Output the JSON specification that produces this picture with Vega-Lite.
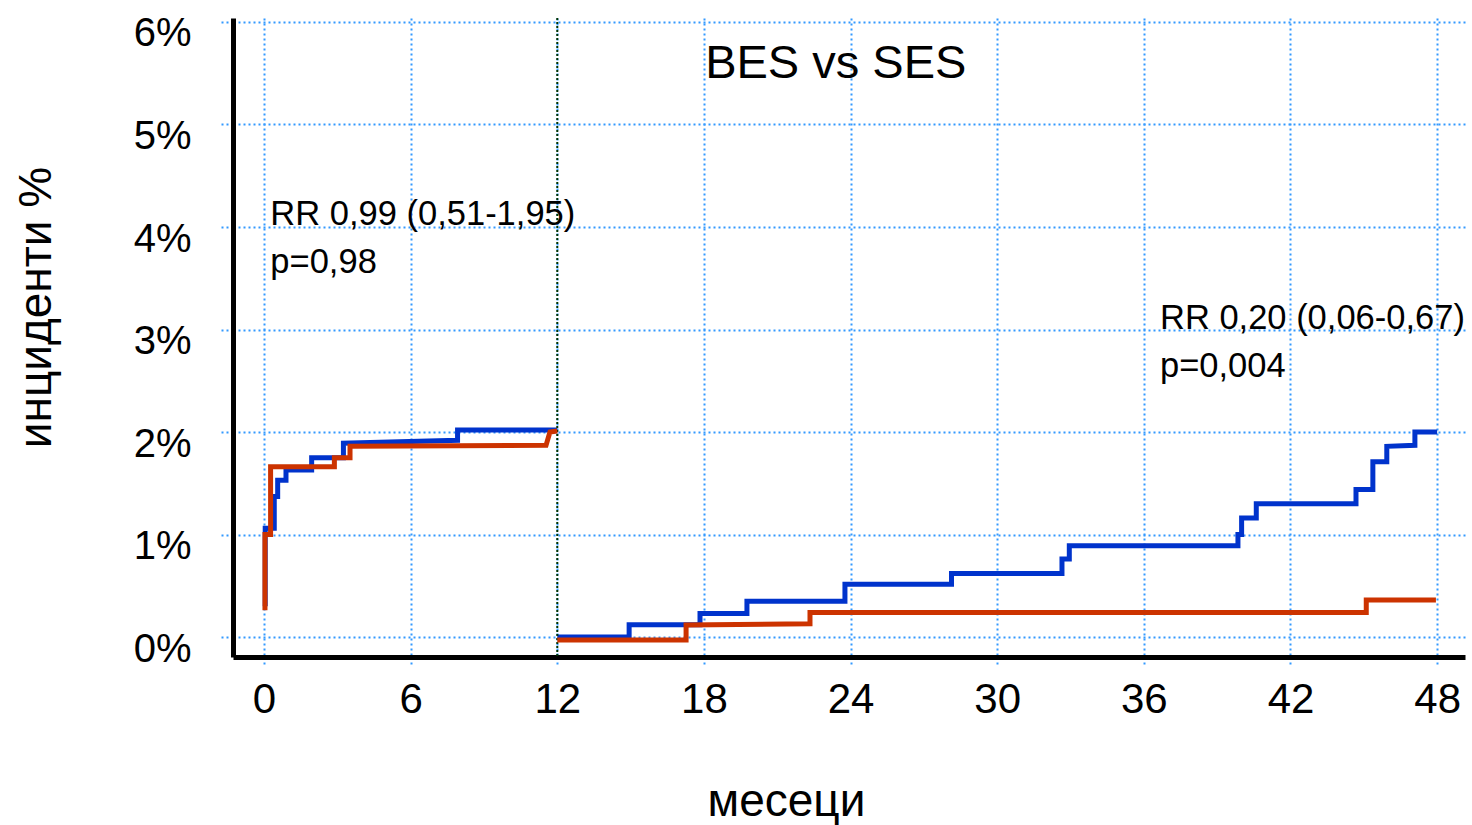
{
  "$schema": "https://vega.github.io/schema/vega-lite/v6.json",
  "width": 1232,
  "height": 639,
  "autosize": {"type": "none"},
  "padding": {"left": 233, "top": 18, "right": 7, "bottom": 168},
  "background": "white",
  "config": {"view": {"stroke": null}, "font": "Liberation Sans"},
  "datasets": {
    "blue": [
      {"s": "b1", "o": 1, "m": 0.05, "p": 0.3},
      {"s": "b1", "o": 2, "m": 0.05, "p": 1.06},
      {"s": "b1", "o": 3, "m": 0.42, "p": 1.06},
      {"s": "b1", "o": 4, "m": 0.42, "p": 1.37},
      {"s": "b1", "o": 5, "m": 0.56, "p": 1.37},
      {"s": "b1", "o": 6, "m": 0.56, "p": 1.53},
      {"s": "b1", "o": 7, "m": 0.9, "p": 1.53},
      {"s": "b1", "o": 8, "m": 0.9, "p": 1.63},
      {"s": "b1", "o": 9, "m": 1.95, "p": 1.63},
      {"s": "b1", "o": 10, "m": 1.95, "p": 1.75},
      {"s": "b1", "o": 11, "m": 3.25, "p": 1.75},
      {"s": "b1", "o": 12, "m": 3.25, "p": 1.89},
      {"s": "b1", "o": 13, "m": 7.92, "p": 1.92},
      {"s": "b1", "o": 14, "m": 7.92, "p": 2.02},
      {"s": "b1", "o": 15, "m": 12.0, "p": 2.02},
      {"s": "b2", "o": 1, "m": 12.0, "p": 0.0},
      {"s": "b2", "o": 2, "m": 14.94, "p": 0.0},
      {"s": "b2", "o": 3, "m": 14.94, "p": 0.12},
      {"s": "b2", "o": 4, "m": 17.84, "p": 0.12},
      {"s": "b2", "o": 5, "m": 17.84, "p": 0.23},
      {"s": "b2", "o": 6, "m": 19.76, "p": 0.23},
      {"s": "b2", "o": 7, "m": 19.76, "p": 0.35},
      {"s": "b2", "o": 8, "m": 23.77, "p": 0.35},
      {"s": "b2", "o": 9, "m": 23.77, "p": 0.515},
      {"s": "b2", "o": 10, "m": 28.13, "p": 0.515},
      {"s": "b2", "o": 11, "m": 28.13, "p": 0.62},
      {"s": "b2", "o": 12, "m": 32.65, "p": 0.62},
      {"s": "b2", "o": 13, "m": 32.65, "p": 0.76},
      {"s": "b2", "o": 14, "m": 32.95, "p": 0.76},
      {"s": "b2", "o": 15, "m": 32.95, "p": 0.89},
      {"s": "b2", "o": 16, "m": 39.85, "p": 0.89},
      {"s": "b2", "o": 17, "m": 39.85, "p": 1.0},
      {"s": "b2", "o": 18, "m": 40.0, "p": 1.0},
      {"s": "b2", "o": 19, "m": 40.0, "p": 1.16},
      {"s": "b2", "o": 20, "m": 40.6, "p": 1.16},
      {"s": "b2", "o": 21, "m": 40.6, "p": 1.3},
      {"s": "b2", "o": 22, "m": 44.68, "p": 1.3},
      {"s": "b2", "o": 23, "m": 44.68, "p": 1.44},
      {"s": "b2", "o": 24, "m": 45.37, "p": 1.44},
      {"s": "b2", "o": 25, "m": 45.37, "p": 1.71},
      {"s": "b2", "o": 26, "m": 45.94, "p": 1.71},
      {"s": "b2", "o": 27, "m": 45.94, "p": 1.86},
      {"s": "b2", "o": 28, "m": 47.09, "p": 1.87},
      {"s": "b2", "o": 29, "m": 47.09, "p": 2.0},
      {"s": "b2", "o": 30, "m": 48.0, "p": 2.0}
    ],
    "red": [
      {"s": "r1", "o": 1, "m": 0.04, "p": 0.26},
      {"s": "r1", "o": 2, "m": 0.04, "p": 1.0},
      {"s": "r1", "o": 3, "m": 0.27, "p": 1.0},
      {"s": "r1", "o": 4, "m": 0.27, "p": 1.66},
      {"s": "r1", "o": 5, "m": 2.88, "p": 1.66},
      {"s": "r1", "o": 6, "m": 2.88, "p": 1.75},
      {"s": "r1", "o": 7, "m": 3.52, "p": 1.75},
      {"s": "r1", "o": 8, "m": 3.52, "p": 1.86},
      {"s": "r1", "o": 9, "m": 11.54, "p": 1.87},
      {"s": "r1", "o": 10, "m": 11.7, "p": 2.0},
      {"s": "r1", "o": 11, "m": 12.0, "p": 2.01},
      {"s": "r2", "o": 1, "m": 12.0, "p": -0.03},
      {"s": "r2", "o": 2, "m": 17.27, "p": -0.03},
      {"s": "r2", "o": 3, "m": 17.27, "p": 0.117},
      {"s": "r2", "o": 4, "m": 22.34, "p": 0.13},
      {"s": "r2", "o": 5, "m": 22.34, "p": 0.24},
      {"s": "r2", "o": 6, "m": 45.1, "p": 0.24},
      {"s": "r2", "o": 7, "m": 45.1, "p": 0.36},
      {"s": "r2", "o": 8, "m": 47.95, "p": 0.36}
    ],
    "notes": [
      {"m": 0.26, "p": 4.02, "t": "RR 0,99 (0,51-1,95)"},
      {"m": 0.26, "p": 3.55, "t": "p=0,98"},
      {"m": 36.66, "p": 3.005, "t": "RR 0,20 (0,06-0,67)"},
      {"m": 36.66, "p": 2.54, "t": "p=0,004"}
    ],
    "title": [
      {"m": 18.05, "p": 5.45, "t": "BES vs SES"}
    ]
  },
  "layer": [
    {
      "data": {"name": "blue"},
      "mark": {"type": "line", "color": "#0033cc", "strokeWidth": 5, "strokeCap": "butt", "strokeJoin": "miter"},
      "encoding": {
        "x": {
          "field": "m", "type": "quantitative",
          "scale": {"domain": [-1.268, 49.14], "nice": false, "zero": false},
          "axis": {
            "values": [0, 6, 12, 18, 24, 30, 36, 42, 48],
            "grid": true, "gridColor": "#3399ff", "gridDash": [2, 3], "gridWidth": 2, "gridOpacity": 1,
            "domainColor": "black", "domainWidth": 5,
            "ticks": true, "tickColor": "#3399ff", "tickDash": [2, 3], "tickWidth": 2, "tickSize": 10,
            "labelFont": "Liberation Sans", "labelFontSize": 42, "labelColor": "black",
            "labelPadding": 12, "labelFlush": false, "labelOverlap": false, "labelBound": false,
            "title": "месеци", "titleFont": "Liberation Sans", "titleFontSize": 46, "titleFontWeight": "normal",
            "titleColor": "black", "titleX": 553, "titleY": 158, "titleBaseline": "alphabetic", "titleAlign": "center"
          }
        },
        "y": {
          "field": "p", "type": "quantitative",
          "scale": {"domain": [-0.195, 6.039], "nice": false, "zero": false},
          "axis": {
            "values": [0, 1, 2, 3, 4, 5, 6],
            "labelExpr": "datum.value + '%'",
            "grid": true, "gridColor": "#3399ff", "gridDash": [2, 3], "gridWidth": 2, "gridOpacity": 1,
            "domainColor": "black", "domainWidth": 5,
            "ticks": true, "tickColor": "#3399ff", "tickDash": [2, 3], "tickWidth": 2, "tickSize": 13,
            "labelFont": "Liberation Sans", "labelFontSize": 40, "labelColor": "black",
            "labelPadding": 29, "labelOffset": 12, "labelBaseline": "middle", "labelFlush": false, "labelOverlap": false, "labelBound": false,
            "title": "инциденти %", "titleFont": "Liberation Sans", "titleFontSize": 46, "titleFontWeight": "normal",
            "titleColor": "black", "titleAngle": -90, "titleX": -183, "titleY": 289, "titleBaseline": "alphabetic", "titleAlign": "center"
          }
        },
        "detail": {"field": "s"},
        "order": {"field": "o", "type": "quantitative"}
      }
    },
    {
      "data": {"values": [{"m": 12}]},
      "mark": {"type": "rule", "color": "#003300", "strokeDash": [2, 2], "strokeWidth": 2},
      "encoding": {"x": {"field": "m", "type": "quantitative"}}
    },
    {
      "data": {"name": "red"},
      "mark": {"type": "line", "color": "#cc3300", "strokeWidth": 5, "strokeCap": "butt", "strokeJoin": "miter"},
      "encoding": {
        "x": {"field": "m", "type": "quantitative"},
        "y": {"field": "p", "type": "quantitative"},
        "detail": {"field": "s"},
        "order": {"field": "o", "type": "quantitative"}
      }
    },
    {
      "data": {"name": "notes"},
      "mark": {"type": "text", "font": "Liberation Sans", "fontSize": 34.5, "align": "left", "baseline": "alphabetic", "color": "black"},
      "encoding": {
        "x": {"field": "m", "type": "quantitative"},
        "y": {"field": "p", "type": "quantitative"},
        "text": {"field": "t"}
      }
    },
    {
      "data": {"name": "title"},
      "mark": {"type": "text", "font": "Liberation Sans", "fontSize": 47, "align": "left", "baseline": "alphabetic", "color": "black"},
      "encoding": {
        "x": {"field": "m", "type": "quantitative"},
        "y": {"field": "p", "type": "quantitative"},
        "text": {"field": "t"}
      }
    }
  ]
}
